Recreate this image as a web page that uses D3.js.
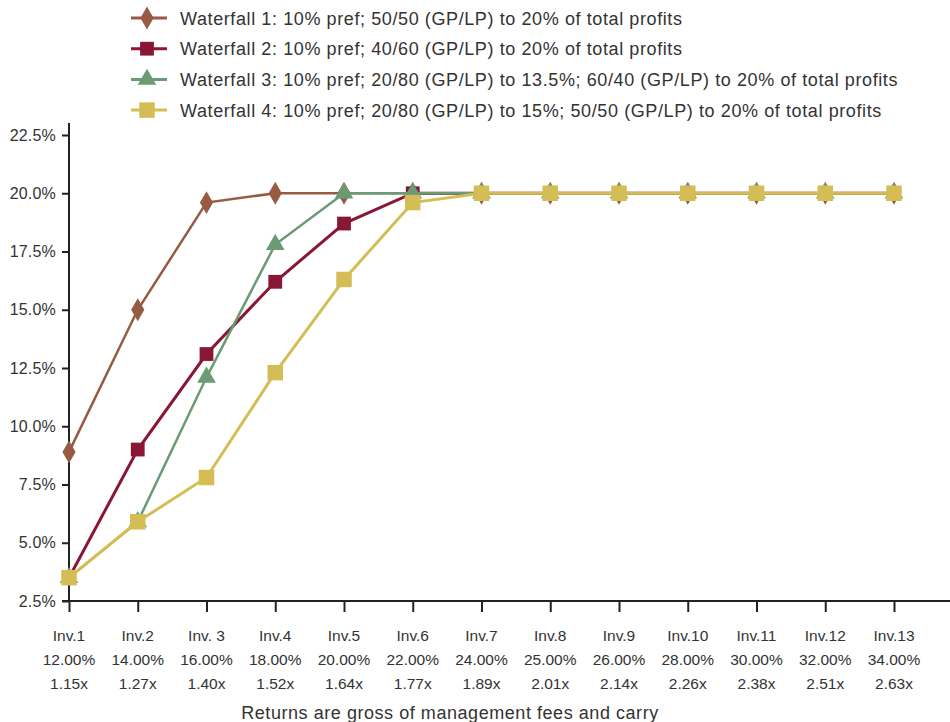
<!DOCTYPE html>
<html>
<head>
<meta charset="UTF-8"/>
<script src="https://d3js.org/d3.v7.min.js"></script>
<title>Waterfall carry</title>
<style>
body{ margin:0; background:#fff; }
svg{ font-family:"Liberation Sans", Arial, sans-serif; }
.axis path, .axis line{ stroke:#222; stroke-width:2; }
.axis text{ fill:#333; font-size:16px; }
</style>
</head>
<body>
<svg id="chart" width="950" height="722"></svg>
<script>
'use strict';
var invNames = ['Inv.1','Inv.2','Inv. 3','Inv.4','Inv.5','Inv.6','Inv.7','Inv.8','Inv.9','Inv.10','Inv.11','Inv.12','Inv.13'];
var irrLabels = ['12.00%','14.00%','16.00%','18.00%','20.00%','22.00%','24.00%','25.00%','26.00%','28.00%','30.00%','32.00%','34.00%'];
var multLabels = ['1.15x','1.27x','1.40x','1.52x','1.64x','1.77x','1.89x','2.01x','2.14x','2.26x','2.38x','2.51x','2.63x'];
var yTicks = [2.5,5,7.5,10,12.5,15,17.5,20,22.5];

var waterfall1 = [8.9,15.0,19.6,20.0,20.0,20.0,20.0,20.0,20.0,20.0,20.0,20.0,20.0];
var waterfall2 = [3.5,9.0,13.1,16.2,18.7,20.0,20.0,20.0,20.0,20.0,20.0,20.0,20.0];
var waterfall3 = [3.5,5.9,12.1,17.8,20.0,20.0,20.0,20.0,20.0,20.0,20.0,20.0,20.0];
var waterfall4 = [3.5,5.9,7.8,12.3,16.3,19.6,20.0,20.0,20.0,20.0,20.0,20.0,20.0];

var seriesNames = [
  'Waterfall 1: 10% pref; 50/50 (GP/LP) to 20% of total profits',
  'Waterfall 2: 10% pref; 40/60 (GP/LP) to 20% of total profits',
  'Waterfall 3: 10% pref; 20/80 (GP/LP) to 13.5%; 60/40 (GP/LP) to 20% of total profits',
  'Waterfall 4: 10% pref; 20/80 (GP/LP) to 15%; 50/50 (GP/LP) to 20% of total profits'
];

var series = [
  {name:seriesNames[0], values:waterfall1, color:'#965b42', shape:d3.symbolDiamond, size:150, width:2.5},
  {name:seriesNames[1], values:waterfall2, color:'#891634', shape:d3.symbolSquare, size:190, width:3},
  {name:seriesNames[2], values:waterfall3, color:'#6b9b74', shape:d3.symbolTriangle, size:150, width:2.5},
  {name:seriesNames[3], values:waterfall4, color:'#d5bd55', shape:d3.symbolSquare, size:240, width:3}
];

var svg = d3.select('#chart');
var x0 = 69, yBottom = 601, yTop = 135;
var step = 68.75;

var sx = d3.scaleLinear().domain([0, (950 - x0) / step]).range([x0, 950]);
var sy = d3.scaleLinear().domain([2.5, 22.5]).range([yBottom, yTop]);

// y axis
var yAxis = d3.axisLeft(sy).tickValues(yTicks).tickSize(7).tickPadding(6)
  .tickFormat(function(d){ return d.toFixed(1) + '%'; });
var gy = svg.append('g').attr('class','axis').attr('transform','translate(' + x0 + ',0)').call(yAxis);
gy.select('.domain').attr('d', 'M-7,' + yBottom + 'H0V123');
gy.selectAll('text').attr('font-size','16px').attr('letter-spacing','0.2px');

// x axis
var xAxis = d3.axisBottom(sx).tickValues(d3.range(13)).tickSize(11).tickFormat('');
var gx = svg.append('g').attr('class','axis').attr('transform','translate(0,' + yBottom + ')').call(xAxis);
gx.select('.domain').attr('d', 'M' + x0 + ',0H950');

// x labels: three rows
var xl = svg.append('g').attr('fill','#333').attr('font-size','15.5px').attr('text-anchor','middle');
[invNames, irrLabels, multLabels].forEach(function(row, r){
  xl.selectAll(null).data(row).enter().append('text')
    .attr('x', function(d,i){ return sx(i); })
    .attr('y', 641 + r * 24)
    .text(function(d){ return d; });
});

svg.append('text').attr('x', 450).attr('y', 719).attr('text-anchor','middle')
  .attr('fill','#333').attr('font-size','18px').attr('letter-spacing','0.55px')
  .text('Returns are gross of management fees and carry');

// lines and markers
var line = d3.line().x(function(d,i){ return sx(i); }).y(function(d){ return sy(d); });

series.forEach(function(s){
  var g = svg.append('g');
  g.append('path').datum(s.values).attr('d', line)
    .attr('fill','none').attr('stroke', s.color).attr('stroke-width', s.width);
  g.selectAll('path.m').data(s.values).enter().append('path').attr('class','m')
    .attr('d', d3.symbol().type(s.shape).size(s.size))
    .attr('transform', function(d,i){ return 'translate(' + sx(i) + ',' + sy(d) + ')'; })
    .attr('fill', s.color);
});

// legend
var leg = svg.append('g');
series.forEach(function(s, i){
  var y = 18 + i * 30.7;
  leg.append('line').attr('x1',131).attr('x2',167).attr('y1',y).attr('y2',y)
    .attr('stroke', s.color).attr('stroke-width', 3);
  leg.append('path').attr('d', d3.symbol().type(s.shape).size(s.size))
    .attr('transform','translate(147,' + y + ')').attr('fill', s.color);
  leg.append('text').attr('x',180).attr('y', y + 6.5).attr('fill','#333')
    .attr('font-size','18px').attr('letter-spacing','0.6px').text(s.name);
});
</script>
</body>
</html>
